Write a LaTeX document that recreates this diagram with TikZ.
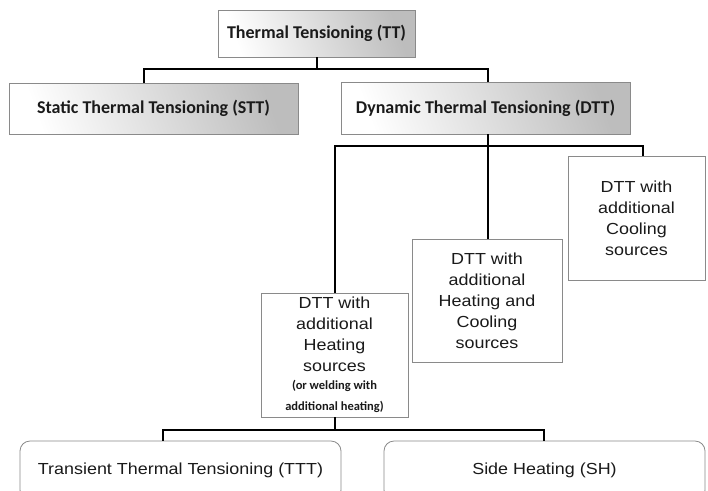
\documentclass[tikz,border=0pt]{standalone}
\usepackage{fontspec}
\newfontfamily\calfont{Carlito}
\newfontfamily\arlfont[FakeStretch=1.12]{Liberation Sans}
\definecolor{boxline}{HTML}{8A8A8A}
\definecolor{txt}{HTML}{1A1A1A}
\tikzset{
  gradbox/.style={draw=boxline, line width=0.8pt, left color=white, right color=black!26, shading angle=110,
    inner sep=0pt, text=txt, font=\calfont\bfseries\fontsize{18}{22}\selectfont},
  plainbox/.style={draw=boxline, line width=0.8pt, fill=white, inner sep=0pt, text=txt, align=center,
    font=\arlfont\fontsize{16}{21}\selectfont},
  roundbox/.style={plainbox, rounded corners=10pt},
  conn/.style={draw=black, line width=1.3pt}
}
\newcommand{\smallbold}{\calfont\bfseries\fontsize{12.5}{15}\selectfont}
\begin{document}
\begin{tikzpicture}[x=1pt,y=-1pt]
\clip (0,0) rectangle (708,490);
\fill[white] (0,0) rectangle (708,490);
% boxes
\node[gradbox, minimum width=197pt, minimum height=47pt] (TT) at (316.5,33.5) {Thermal Tensioning (TT)};
\node[gradbox, minimum width=289pt, minimum height=51pt] (STT) at (153.5,108.5) {Static Thermal Tensioning (STT)};
\node[gradbox, minimum width=289pt, minimum height=52pt] (DTT) at (485.5,108) {Dynamic Thermal Tensioning (DTT)};
\node[plainbox, minimum width=147pt, minimum height=124pt] (HEAT) at (334.5,355) {DTT with\\additional\\Heating\\sources\\[-3pt]\smallbold (or welding with\\\smallbold additional heating)};
\node[plainbox, minimum width=150pt, minimum height=123pt] (HC) at (487,300.5) {DTT with\\additional\\Heating and\\Cooling\\sources};
\node[plainbox, minimum width=137pt, minimum height=124pt] (COOL) at (636.5,218) {DTT with\\additional\\Cooling\\sources};
\node[roundbox, minimum width=321pt, minimum height=59pt] (TTT) at (180.5,470.5) {\raisebox{4pt}{Transient Thermal Tensioning (TTT)}};
\node[roundbox, minimum width=321pt, minimum height=59pt] (SH) at (544.5,470.5) {\raisebox{4pt}{Side Heating (SH)}};
% bus coordinates
\coordinate (bus1) at (317,69);
\coordinate (bus2) at (488,146);
\coordinate (bus3) at (335,430);
% connectors
\draw[conn] ([xshift=0.5pt]TT.south) -- (bus1);
\draw[conn] ([xshift=-9.5pt]STT.north) |- (bus1);
\draw[conn] ([xshift=2.5pt]DTT.north) |- (bus1);
\draw[conn] ([xshift=2.5pt]DTT.south) -- (bus2);
\draw[conn] ([xshift=0.5pt]HEAT.north) |- (bus2);
\draw[conn] ([xshift=1pt]HC.north) -- (bus2);
\draw[conn] ([xshift=6.5pt]COOL.north) |- (bus2);
\draw[conn] ([xshift=0.5pt]HEAT.south) -- (bus3);
\draw[conn] ([xshift=-17.5pt]TTT.north) |- (bus3);
\draw[conn] ([xshift=-0.5pt]SH.north) |- (bus3);
\end{tikzpicture}
\end{document}
